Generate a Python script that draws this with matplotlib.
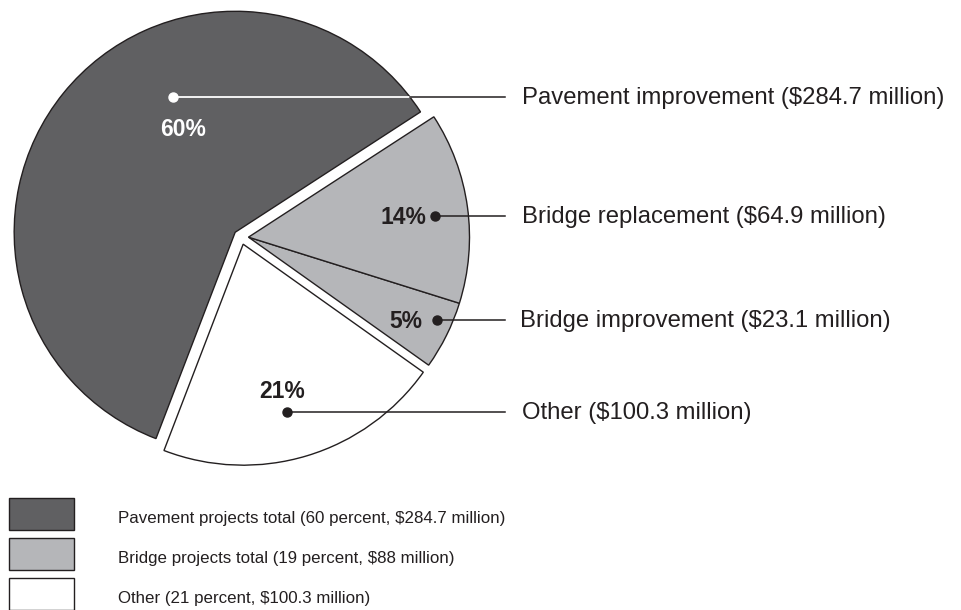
import numpy as np
import matplotlib.pyplot as plt
from matplotlib.patches import Wedge, Rectangle

plt.rcParams['font.family'] = ['Liberation Sans', 'DejaVu Sans']

# Anteile in Prozent, gegen den Uhrzeigersinn ab Startwinkel
parts = ["Pavement improvement", "Other", "Bridge improvement", "Bridge replacement"]
pct = [60, 21, 5, 14]
groups = ["pavement", "other", "bridge", "bridge"]
labels = ["Pavement improvement ($284.7 million)",
          "Other ($100.3 million)",
          "Bridge improvement ($23.1 million)",
          "Bridge replacement ($64.9 million)"]
pct_text = ["60%", "21%", "5%", "14%"]

# Legende
leg_labels = ["Pavement projects total (60 percent, $284.7 million)",
              "Bridge projects total (19 percent, $88 million)",
              "Other (21 percent, $100.3 million)"]
leg_groups = ["pavement", "bridge", "other"]

colors = {"pavement": "#606062", "bridge": "#b5b6b9", "other": "#ffffff"}
ink = "#231f20"

# Geometrie (Pixel, y nach unten)
W, H = 961, 610
cx, cy, R = 241, 237, 221
start = 33.0
shift = 7.5

# Position der Punkte / Prozentzahlen / Beschriftungen
dots = [(173, 97), (287, 412), (437, 320), (435, 216)]
dot_col = ["white", ink, ink, ink]
ptxt = [(183, 130, "center"), (282, 391, "center"), (422, 321, "right"), (426, 217, "right")]
line_end = 505
lab_x = [522, 522, 520, 522]

fig = plt.figure(figsize=(W / 100, H / 100), dpi=100)
ax = fig.add_axes([0, 0, 1, 1])
ax.set_xlim(0, W)
ax.set_ylim(H, 0)
ax.set_aspect("equal")
ax.axis("off")

# Winkel der Segmente
edges = start + np.concatenate([[0], np.cumsum(pct)]) * 3.6
# Mittelwinkel je Gruppe fuer das Herausruecken
gmid = {}
for g in set(groups):
    idx = [i for i, gg in enumerate(groups) if gg == g]
    gmid[g] = (edges[idx[0]] + edges[idx[-1] + 1]) / 2

centers = {}
for g, m in gmid.items():
    a = np.deg2rad(m)
    centers[g] = (cx + shift * np.cos(a), cy - shift * np.sin(a))

for i, g in enumerate(groups):
    w = Wedge(centers[g], R, -edges[i + 1], -edges[i],
              facecolor=colors[g], edgecolor=ink, linewidth=1.0)
    ax.add_patch(w)

# Hinweislinien, Punkte und Texte
for i, g in enumerate(groups):
    x0, y0 = dots[i]
    if dot_col[i] == "white":
        gx, gy = centers[g]
        xe = gx + np.sqrt(R**2 - (y0 - gy)**2)
        ax.plot([x0, xe], [y0, y0], color="white", lw=1.3, zorder=3)
        ax.plot([xe, line_end], [y0, y0], color=ink, lw=1.1, zorder=3)
    else:
        ax.plot([x0, line_end], [y0, y0], color=ink, lw=1.1, zorder=3)
    ax.plot(x0, y0, "o", ms=6.5, color=dot_col[i], zorder=4)
    tx, ty, ha = ptxt[i]
    ax.text(tx, ty, pct_text[i], ha=ha, va="center", fontsize=16.5,
            fontweight="bold", color=dot_col[i] if dot_col[i] == "white" else ink)
    ax.text(lab_x[i], y0 + 1, labels[i], ha="left", va="center",
            fontsize=17.2, color=ink)

# Legende
box_y = [498, 538, 578]
for k, g in enumerate(leg_groups):
    ax.add_patch(Rectangle((9, box_y[k]), 65, 32, facecolor=colors[g],
                           edgecolor=ink, linewidth=1.0))
    ax.text(118, box_y[k] + 21, leg_labels[k], ha="left", va="center",
            fontsize=12.2, color=ink)

fig.savefig("out.png", dpi=100)
